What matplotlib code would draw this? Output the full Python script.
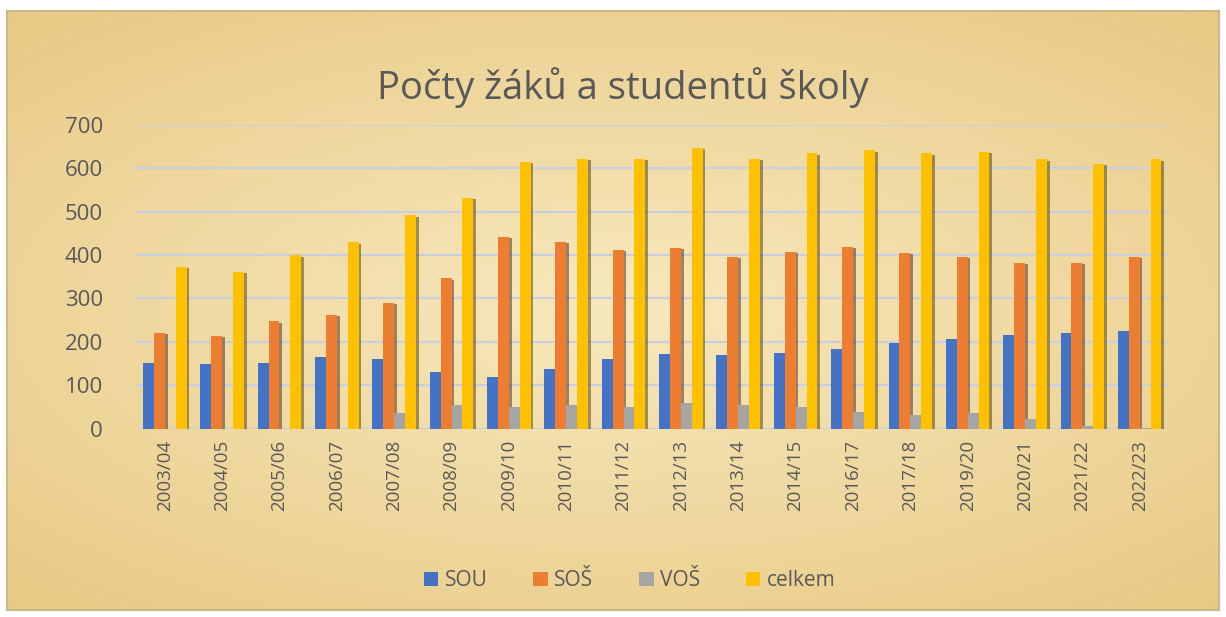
import matplotlib
matplotlib.use("Agg")
import matplotlib.pyplot as plt
import matplotlib.patheffects as pe
from matplotlib.patches import FancyBboxPatch
import numpy as np

years = ["2003/04", "2004/05", "2005/06", "2006/07", "2007/08", "2008/09",
         "2009/10", "2010/11", "2011/12", "2012/13", "2013/14", "2014/15",
         "2016/17", "2017/18", "2019/20", "2020/21", "2021/22", "2022/23"]
sou = [152, 150, 152, 166, 161, 131, 120, 138, 161, 173, 171, 175,
       184, 198, 207, 217, 221, 224]
sos = [221, 214, 247, 263, 290, 346, 442, 431, 412, 417, 396, 408,
       419, 405, 396, 382, 382, 396]
vos = [0, 0, 0, 0, 37, 55, 51, 55, 51, 60, 55, 51,
       39, 32, 37, 23, 7, 2]
celkem = [373, 362, 399, 429, 491, 532, 615, 622, 622, 647, 622, 634,
          641, 634, 638, 620, 610, 620]

series = [("SOU", sou, "#4472C4"), ("SOŠ", sos, "#ED7D31"),
          ("VOŠ", vos, "#A5A5A5"), ("celkem", celkem, "#FFC000")]

plt.rcParams["font.family"] = ["Open Sans", "DejaVu Sans"]
text_col = "#595959"

fig = plt.figure(figsize=(12.26, 6.17), dpi=100)
fig.patch.set_facecolor("white")

# papyrus-like background panel
bg = fig.add_axes([0.006, 0.012, 0.988, 0.97])
gx = np.linspace(-1, 1, 300)
gy = np.linspace(-1, 1, 150)
X, Y = np.meshgrid(gx, gy)
r = np.clip(np.sqrt(X**2 * 0.8 + Y**2), 0, 1.4)
c_in = np.array([247, 233, 190]) / 255
c_out = np.array([232, 200, 130]) / 255
img = c_in[None, None, :] + (c_out - c_in)[None, None, :] * (r[..., None] / 1.4)
bg.imshow(img, aspect="auto", extent=[0, 1, 0, 1])
bg.set_xlim(0, 1)
bg.set_ylim(0, 1)
bg.axis("off")
fig.patches.append(FancyBboxPatch((0.006, 0.012), 0.988, 0.97,
                                  boxstyle="square,pad=0", transform=fig.transFigure,
                                  fill=False, edgecolor="#c9b88a", linewidth=1.5))

ax = fig.add_axes([0.111, 0.305, 0.842, 0.493])
ax.patch.set_alpha(0)

x = np.arange(len(years))
w = 0.19
offsets = [-1.5, -0.5, 0.5, 1.5]
all_bars = []
for (name, vals, col), off in zip(series, offsets):
    bars = ax.bar(x + off * w, vals, width=w, color=col, label=name, zorder=3)
    all_bars.append(bars)

ax.set_xlim(-0.5, len(years) - 0.5)
ax.set_ylim(0, 700)
ax.set_yticks(range(0, 701, 100))
ax.grid(axis="y", color="#c9cfe0", linewidth=1.6, zorder=0)
for s in ax.spines.values():
    s.set_visible(False)
ax.tick_params(axis="both", length=0, colors=text_col)
ax.tick_params(axis="y", labelsize=16, pad=24)
ax.set_xticks(x)
ax.set_xticklabels(years, rotation=90, fontsize=13.5, color=text_col)
ax.tick_params(axis="x", pad=8)

fig.text(0.508, 0.858, "Počty žáků a studentů školy", ha="center", va="center",
         fontsize=27.5, color=text_col)

leg = ax.legend(loc="center", bbox_to_anchor=(0.478, -0.50), ncol=4, frameon=False,
                fontsize=15, handlelength=0.7, handleheight=0.7, handletextpad=0.3,
                columnspacing=2.2, labelcolor=text_col)

# small 3D-like shadow on the right side of each bar
for bars in all_bars:
    for b in bars:
        b.set_path_effects([pe.SimplePatchShadow(offset=(2, -1), alpha=0.5),
                            pe.Normal()])

fig.savefig("out.png", dpi=100, facecolor=fig.get_facecolor())
